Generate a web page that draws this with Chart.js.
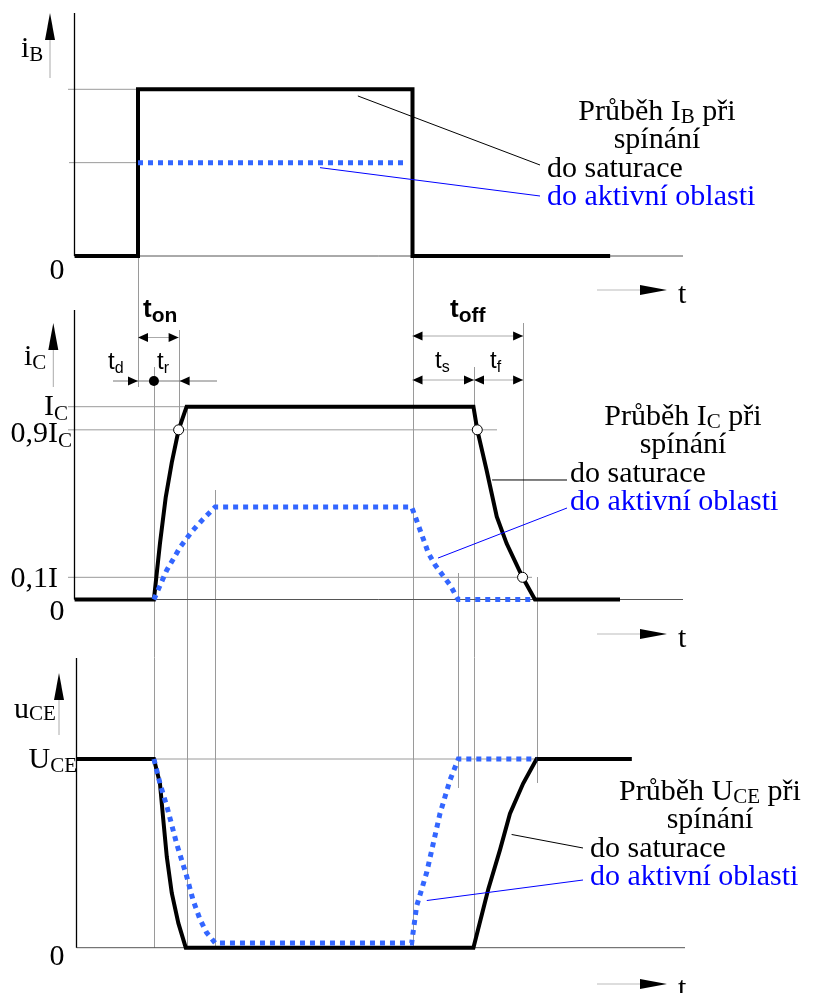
<!doctype html>
<html>
<head>
<meta charset="utf-8">
<script src="https://cdn.jsdelivr.net/npm/chart.js@4.4.0/dist/chart.umd.min.js"></script>
<style>
  body { margin: 0; background: #fff; }
</style>
</head>
<body>
<canvas id="c1" width="813" height="993"></canvas>
<script>
// time axis: t = 0 when i_B switches on, t = 10 when it switches off
// i_B (relative to saturation drive)
let ibSatT = [-2.31, 0, 0, 10, 10, 17.2];
let ibSat  = [0, 0, 1, 1, 0, 0];
let ibActT = [0, 9.8];
let ibAct  = [0.56, 0.56];

// i_C (relative to I_C)
let icSatT = [-2.31, 0.58, 0.80, 1.01, 1.23, 1.48, 1.77, 12.22, 12.36, 12.70, 13.07, 13.43, 14.01, 14.46, 17.56];
let icSat  = [0, 0, 0.29, 0.53, 0.71, 0.88, 1, 1, 0.88, 0.67, 0.43, 0.29, 0.115, 0, 0];
let icActT = [0.58, 1.04, 1.53, 1.95, 2.26, 2.81, 9.97, 10.15, 10.58, 10.82, 11.13, 11.37, 11.66, 14.46];
let icAct  = [0, 0.15, 0.27, 0.35, 0.40, 0.48, 0.48, 0.41, 0.24, 0.18, 0.12, 0.075, 0, 0];
let icMarkT = [1.48, 12.36, 14.01];
let icMark  = [0.88, 0.88, 0.115];

// u_CE (relative to U_CE)
let ucSatT = [-2.24, 0.58, 0.80, 0.92, 1.05, 1.23, 1.47, 1.74, 12.22, 12.76, 13.19, 13.55, 14.03, 14.52, 17.99];
let ucSat  = [1, 1, 0.87, 0.68, 0.48, 0.29, 0.13, 0, 0, 0.31, 0.52, 0.71, 0.87, 1, 1];
let ucActT = [0.58, 0.80, 1.05, 1.41, 1.77, 2.01, 2.26, 2.50, 2.81, 9.97, 10.15, 10.52, 11.0, 11.37, 11.67, 14.52];
let ucAct  = [1, 0.87, 0.75, 0.55, 0.38, 0.25, 0.15, 0.08, 0.025, 0.025, 0.22, 0.40, 0.71, 0.89, 1, 1];

// y tick levels
let ibLevels = [1, 0.56];
let icLevels = [1, 0.88, 0.115];
let ucLevels = [1];

const H = 993, W = 813;
const BLUE = '#3366ff';
const SERIF = '"Liberation Serif", "Times New Roman", serif';
const SANS = '"Liberation Sans", Arial, sans-serif';

function pts(xs, ys) { return xs.map((x, i) => ({ x: x, y: ys[i] })); }
// axis range so that value 0 sits at pixel p0 and value 1 at pixel p1
function yRange(p0, p1) { return { min: (p0 - H) / (p0 - p1), max: p0 / (p0 - p1), display: false }; }

function rich(ctx, x, y, parts, align, color) {
  ctx.fillStyle = color || '#000';
  let w = 0;
  parts.forEach(p => { ctx.font = p[1]; w += ctx.measureText(p[0]).width; });
  let sx = align === 'center' ? x - w / 2 : align === 'right' ? x - w : x;
  parts.forEach(p => {
    ctx.font = p[1];
    ctx.fillText(p[0], sx, y + (p[2] || 0));
    sx += ctx.measureText(p[0]).width;
  });
}
function tri(ctx, x1, y1, x2, y2, x3, y3) {
  ctx.fillStyle = '#000';
  ctx.beginPath(); ctx.moveTo(x1, y1); ctx.lineTo(x2, y2); ctx.lineTo(x3, y3); ctx.closePath(); ctx.fill();
}
function arrowH(ctx, tip, y, dir) { tri(ctx, tip, y, tip - dir * 10, y - 4.5, tip - dir * 10, y + 4.5); }
function line(ctx, x1, y1, x2, y2, color, w) {
  ctx.strokeStyle = color; ctx.lineWidth = w || 1;
  ctx.beginPath(); ctx.moveTo(x1, y1); ctx.lineTo(x2, y2); ctx.stroke();
}

// vertical guide lines: time and pixel extent
let guides = [
  [0, 256, 387], [0.58, 367, 948], [1.48, 330, 430], [1.77, 406, 948], [2.81, 490, 948],
  [10, 256, 948], [11.66, 573, 788], [12.24, 367, 948], [14.03, 323, 577], [14.52, 577, 783]
];

const drawing = {
  id: 'drawing',
  beforeDatasetsDraw(chart) {
    const ctx = chart.ctx, s = chart.scales;
    const X = v => s.x.getPixelForValue(v);
    ctx.save();
    ctx.lineCap = 'butt';
    guides.forEach(g => line(ctx, Math.round(X(g[0])) + 0.5, g[1], Math.round(X(g[0])) + 0.5, g[2], '#9a9a9a', 1));
    // horizontal reference levels
    let yb = v => s.yB.getPixelForValue(v), yc = v => s.yC.getPixelForValue(v), yu = v => s.yU.getPixelForValue(v);
    line(ctx, 68, yb(ibLevels[0]), X(0), yb(ibLevels[0]), '#9a9a9a');
    line(ctx, 69, yb(ibLevels[1]), X(0), yb(ibLevels[1]), '#9a9a9a');
    line(ctx, 68, yc(icLevels[0]), X(1.77), yc(icLevels[0]), '#9a9a9a');
    line(ctx, 68, yc(icLevels[1]), 497, yc(icLevels[1]), '#9a9a9a');
    line(ctx, 68, yc(icLevels[2]), 532, yc(icLevels[2]), '#9a9a9a');
    line(ctx, 76.5, yu(ucLevels[0]), X(14.52), yu(ucLevels[0]), '#9a9a9a');
    // time axes
    line(ctx, 74.5, yb(0), 683, yb(0), '#555');
    line(ctx, 74.5, yc(0), 683, yc(0), '#555');
    line(ctx, 76.5, yu(0), 685, yu(0), '#555');
    // vertical axes
    line(ctx, 74.5, 13, 74.5, yb(0), '#000', 1.3);
    line(ctx, 74.5, 310, 74.5, yc(0), '#000', 1.3);
    line(ctx, 76.5, 658, 76.5, yu(0), '#000', 1.3);
    ctx.restore();
  },
  afterDatasetsDraw(chart) {
    const ctx = chart.ctx, s = chart.scales;
    const X = v => s.x.getPixelForValue(v);
    ctx.save();
    ctx.textBaseline = 'alphabetic';
    const f30 = '30px ' + SERIF, f21 = '21px ' + SERIF;

    // axis arrows (quantity)
    [[50, 13, 78], [53.3, 323, 387], [59, 673, 735]].forEach(a => {
      line(ctx, a[0], a[1] + 20, a[0], a[2], '#aaa');
      tri(ctx, a[0], a[1], a[0] - 5, a[1] + 27, a[0] + 5, a[1] + 27);
    });
    // time arrows
    [290, 634, 984].forEach(y => {
      line(ctx, 597, y, 645, y, '#bbb');
      tri(ctx, 667, y, 640, y - 5, 640, y + 5);
      rich(ctx, 678, y + 13, [['t', f30]]);
    });

    // axis names and level labels
    rich(ctx, 21, 57, [['i', f30], ['B', f21, 4]]);
    rich(ctx, 57, 279, [['0', f30]], 'center');
    rich(ctx, 24, 365, [['i', f30], ['C', f21, 4]]);
    rich(ctx, 68, 415, [['I', f30], ['C', f21, 5]], 'right');
    rich(ctx, 72, 442, [['0,9I', f30], ['C', f21, 5]], 'right');
    rich(ctx, 58, 587, [['0,1I', f30]], 'right');
    rich(ctx, 57, 620, [['0', f30]], 'center');
    rich(ctx, 14, 718, [['u', f30], ['CE', f21, 2]]);
    rich(ctx, 77, 768, [['U', f30], ['CE', f21, 4]], 'right');
    rich(ctx, 57, 965, [['0', f30]], 'center');

    // switching-time brackets
    const tb = 'bold 26px ' + SANS, sb = 'bold 21px ' + SANS, tn = '24px ' + SANS, sn = '16px ' + SANS;
    rich(ctx, 143, 317, [['t', tb], ['on', sb, 5]]);
    rich(ctx, 450, 317, [['t', tb], ['off', sb, 5]]);
    rich(ctx, 108, 369, [['t', tn], ['d', sn, 4]]);
    rich(ctx, 157, 369, [['t', tn], ['r', sn, 4]]);
    rich(ctx, 435, 368, [['t', tn], ['s', sn, 4]]);
    rich(ctx, 490, 368, [['t', tn], ['f', sn, 4]]);

    line(ctx, X(0), 337.5, X(1.48), 337.5, '#aaa');
    arrowH(ctx, X(0), 337.5, -1); arrowH(ctx, X(1.48), 337.5, 1);
    line(ctx, 113, 381, 217, 381, '#777');
    arrowH(ctx, X(0), 381, 1); arrowH(ctx, X(1.48) + 1, 381, -1);
    ctx.fillStyle = '#000'; ctx.beginPath(); ctx.arc(X(0.58), 381, 5, 0, Math.PI * 2); ctx.fill();

    line(ctx, X(10), 336, X(14.03), 336, '#aaa');
    arrowH(ctx, X(10), 336, -1); arrowH(ctx, X(14.03), 336, 1);
    line(ctx, X(10), 380, X(14.03), 380, '#aaa');
    arrowH(ctx, X(10), 380, -1); arrowH(ctx, X(12.24), 380, 1);
    arrowH(ctx, X(12.24), 380, -1); arrowH(ctx, X(14.03), 380, 1);

    // legends with leader lines
    const notes = [
      { sub: 'B', cx: 657, y: 120, lx: 547, black: [8.01, 'yB', 0.96, 540, 165], blue: [6.63, 'yB', 0.53, 540, 196] },
      { sub: 'C', cx: 683, y: 425, lx: 570, black: [12.9, 'yC', 0.62, 567, 480], blue: [10.93, 'yC', 0.215, 567, 508] },
      { sub: 'CE', cx: 710, y: 800, lx: 590, black: [13.61, 'yU', 0.6, 583, 848], blue: [10.52, 'yU', 0.25, 583, 880] }
    ];
    notes.forEach(n => {
      rich(ctx, n.cx, n.y, [['Průběh ' + (n.sub === 'CE' ? 'U' : 'I'), f30], [n.sub, f21, 3], [' při', f30]], 'center');
      rich(ctx, n.cx, n.y + 28, [['spínání', f30]], 'center');
      rich(ctx, n.lx, n.y + 57, [['do saturace', f30]]);
      rich(ctx, n.lx, n.y + 85, [['do aktivní oblasti', f30]], 'left', '#0000ff');
      let b = n.black, u = n.blue;
      line(ctx, X(b[0]), s[b[1]].getPixelForValue(b[2]), b[3], b[4], '#000', 1);
      line(ctx, X(u[0]), s[u[1]].getPixelForValue(u[2]), u[3], u[4], '#0000ff', 1);
    });
    ctx.restore();
  }
};

const k = 27.45;   // px per time unit, used only for the axis range
new Chart(document.getElementById('c1'), {
  type: 'line',
  data: {
    datasets: [
      { data: pts(ibSatT, ibSat), yAxisID: 'yB', borderColor: '#000', borderWidth: 4, order: 1 },
      { data: pts(ibActT, ibAct), yAxisID: 'yB', borderColor: BLUE, borderWidth: 5, borderDash: [5, 5], order: 0 },
      { data: pts(icSatT, icSat), yAxisID: 'yC', borderColor: '#000', borderWidth: 4, order: 1 },
      { data: pts(icActT, icAct), yAxisID: 'yC', borderColor: BLUE, borderWidth: 5, borderDash: [5, 5], order: 0 },
      { data: pts(ucSatT, ucSat), yAxisID: 'yU', borderColor: '#000', borderWidth: 4, order: 1 },
      { data: pts(ucActT, ucAct), yAxisID: 'yU', borderColor: BLUE, borderWidth: 5, borderDash: [5, 5], order: 0 },
      { data: pts(icMarkT, icMark), yAxisID: 'yC', showLine: false, pointRadius: 5, pointBackgroundColor: '#fff',
        pointBorderColor: '#000', pointBorderWidth: 1, order: -1 }
    ]
  },
  options: {
    responsive: false,
    animation: false,
    devicePixelRatio: 1,
    layout: { padding: 0, autoPadding: false },
    elements: { point: { radius: 0 }, line: { tension: 0, borderJoinStyle: 'miter', borderCapStyle: 'butt' } },
    plugins: { legend: { display: false }, tooltip: { enabled: false } },
    scales: {
      x: { type: 'linear', min: -138 / k, max: (W - 138) / k, display: false },
      yB: yRange(256, 89.3),
      yC: yRange(599.5, 406.7),
      yU: yRange(947.7, 759)
    }
  },
  plugins: [drawing]
});
</script>
</body>
</html>
